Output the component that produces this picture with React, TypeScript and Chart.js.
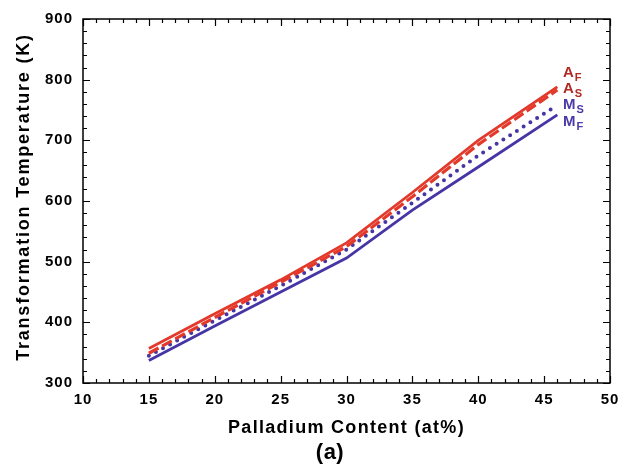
import React, { useEffect, useRef } from "react";
import { Chart, registerables } from "chart.js";

Chart.register(...registerables);

// Palladium content (at%) and transformation temperatures (K)
const palladium = [15, 20, 25, 30, 35, 40, 46];
const afTemps = [357, 414, 470, 531, 614, 700, 788];
const asTemps = [349, 408, 466, 525, 607, 693, 783];
const msTemps = [345, 403, 460, 520, 597, 675, 758];
const mfTemps = [337, 394, 450, 506, 585, 656, 742];

const xTicks = [10, 15, 20, 25, 30, 35, 40, 45, 50];
const yTicks = [300, 400, 500, 600, 700, 800, 900];

const RED = "#e3392b";
const BLUE = "#4535a5";
const RED_TEXT = "#b02a22";
const BLUE_TEXT = "#4a3aa8";
const FONT = "'Liberation Sans', Arial, sans-serif";

const X_TITLE = "Palladium Content (at%)";
const Y_TITLE = "Transformation Temperature (K)";
const PANEL_TAG = "(a)";

// Series tags placed beside the line ends (baseline given in K)
const seriesLabels = [
  { main: "A", sub: "F", color: RED_TEXT, y: 804 },
  { main: "A", sub: "S", color: RED_TEXT, y: 778 },
  { main: "M", sub: "S", color: BLUE_TEXT, y: 751 },
  { main: "M", sub: "F", color: BLUE_TEXT, y: 723 },
];

const toPoints = (ys: number[]) => palladium.map((x, i) => ({ x, y: ys[i] }));

// Wider letter spacing for the tick labels
const spacingPlugin = {
  id: "spacing",
  beforeDraw(chart: any) {
    chart.ctx.letterSpacing = "1px";
  },
};

// Closed frame with inward major/minor ticks, titles and series tags
const framePlugin = {
  id: "frame",
  afterDraw(chart: any) {
    const { ctx, chartArea: a, scales } = chart;
    const xs = scales.x;
    const ys = scales.y;
    ctx.save();
    ctx.strokeStyle = "#000";
    ctx.lineWidth = 1.5;
    ctx.strokeRect(a.left, a.top, a.right - a.left, a.bottom - a.top);
    ctx.lineWidth = 1.2;
    ctx.beginPath();
    for (let v = 10; v <= 50; v += 1) {
      const px = Math.round(xs.getPixelForValue(v)) + 0.5;
      const len = v % 5 === 0 ? 7 : 4;
      ctx.moveTo(px, a.bottom);
      ctx.lineTo(px, a.bottom - len);
      ctx.moveTo(px, a.top);
      ctx.lineTo(px, a.top + len);
    }
    for (let v = 300; v <= 900; v += 20) {
      const py = Math.round(ys.getPixelForValue(v)) + 0.5;
      const len = v % 100 === 0 ? 7 : 4;
      ctx.moveTo(a.left, py);
      ctx.lineTo(a.left + len, py);
      ctx.moveTo(a.right, py);
      ctx.lineTo(a.right - len, py);
    }
    ctx.stroke();

    // Series tags
    ctx.letterSpacing = "0px";
    const lx = 563;
    for (const s of seriesLabels) {
      const py = ys.getPixelForValue(s.y);
      ctx.fillStyle = s.color;
      ctx.textBaseline = "alphabetic";
      ctx.textAlign = "left";
      ctx.font = `bold 15px ${FONT}`;
      ctx.fillText(s.main, lx, py);
      const w = ctx.measureText(s.main).width;
      ctx.font = `bold 11px ${FONT}`;
      ctx.fillText(s.sub, lx + w + 1, py + 4);
    }

    // Axis titles
    ctx.fillStyle = "#000";
    ctx.textAlign = "center";
    ctx.textBaseline = "middle";
    ctx.font = `bold 18px ${FONT}`;
    ctx.letterSpacing = "1.3px";
    ctx.fillText(X_TITLE, (a.left + a.right) / 2, 428);

    ctx.save();
    ctx.translate(24, 197);
    ctx.rotate(-Math.PI / 2);
    ctx.letterSpacing = "1.8px";
    ctx.fillText(Y_TITLE, 0, 0);
    ctx.restore();

    // Panel tag
    ctx.letterSpacing = "0.5px";
    ctx.font = `bold 22px ${FONT}`;
    ctx.fillText(PANEL_TAG, 330, 453);
    ctx.restore();
  },
};

export default function App() {
  const ref = useRef<HTMLCanvasElement>(null);

  useEffect(() => {
    document.body.style.margin = "0";
    const canvas = ref.current;
    if (!canvas) return;
    const chart = new Chart(canvas, {
      type: "line",
      data: {
        datasets: [
          {
            label: "AF",
            data: toPoints(afTemps),
            borderColor: RED,
            borderWidth: 2.8,
            pointRadius: 0,
            tension: 0,
          },
          {
            label: "AS",
            data: toPoints(asTemps),
            borderColor: RED,
            borderWidth: 3.2,
            borderDash: [11, 4],
            pointRadius: 0,
            tension: 0,
          },
          {
            label: "MS",
            data: toPoints(msTemps),
            borderColor: BLUE,
            borderWidth: 4,
            borderDash: [0, 8],
            borderCapStyle: "round",
            pointRadius: 0,
            tension: 0,
          },
          {
            label: "MF",
            data: toPoints(mfTemps),
            borderColor: BLUE,
            borderWidth: 2.8,
            pointRadius: 0,
            tension: 0,
          },
        ],
      },
      options: {
        animation: false,
        responsive: false,
        devicePixelRatio: 1,
        layout: { padding: { left: 0, right: 22, top: 13, bottom: 0 } },
        plugins: { legend: { display: false }, tooltip: { enabled: false } },
        scales: {
          x: {
            type: "linear",
            min: 10,
            max: 50,
            afterFit: (s: any) => {
              s.height = 87;
            },
            afterBuildTicks: (s: any) => {
              s.ticks = xTicks.map((v) => ({ value: v }));
            },
            grid: { display: false, drawTicks: false },
            border: { display: false },
            ticks: {
              padding: 8,
              color: "#000",
              font: { family: FONT, size: 15, weight: "bold" },
              maxRotation: 0,
            },
          },
          y: {
            type: "linear",
            min: 300,
            max: 900,
            afterFit: (s: any) => {
              s.width = 83;
            },
            afterBuildTicks: (s: any) => {
              s.ticks = yTicks.map((v) => ({ value: v }));
            },
            grid: { display: false, drawTicks: false },
            border: { display: false },
            ticks: {
              padding: 10,
              color: "#000",
              font: { family: FONT, size: 15, weight: "bold" },
            },
          },
        },
      },
      plugins: [spacingPlugin, framePlugin],
    });
    return () => chart.destroy();
  }, []);

  return (
    <div style={{ width: 632, height: 470 }}>
      <canvas ref={ref} width={632} height={470} style={{ display: "block" }} />
    </div>
  );
}
